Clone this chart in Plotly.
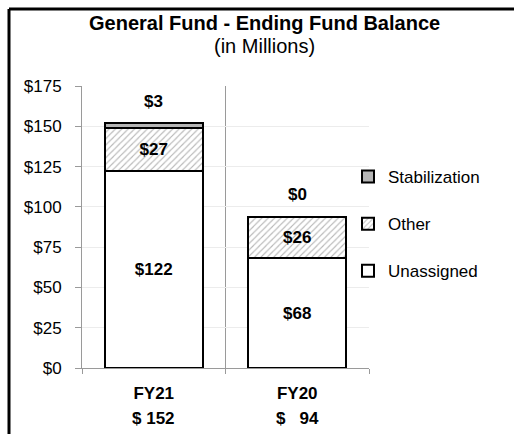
import plotly.graph_objects as go

categories = ["FY21", "FY20"]
unassigned = [122, 68]
other = [27, 26]
stabilization = [3, 0]
totals = [152, 94]
yticks = [0, 25, 50, 75, 100, 125, 150, 175]

FONT = "Liberation Sans, Arial, sans-serif"
W, H = 514, 434
L, R, T, B = 82, 145, 86, 66
PW, PH = W - L - R, H - T - B

def px_x(x):
    return (x - L) / PW

def px_y(y):
    return (H - B - y) / PH

fig = go.Figure()
common = dict(width=0.68, textposition="inside", insidetextanchor="middle",
              textfont=dict(family=FONT, size=17, color="black"),
              constraintext="none", cliponaxis=False)
fig.add_trace(go.Bar(
    x=categories, y=unassigned, name="Unassigned", legendgroup="u", legendrank=3,
    marker=dict(color="white", line=dict(color="black", width=2)),
    texttemplate="<b>$%{y}</b>", **common))
fig.add_trace(go.Bar(
    x=categories, y=other, name="Other", legendgroup="o", legendrank=2,
    marker=dict(color="white", line=dict(color="black", width=2),
                pattern=dict(shape="/", fgcolor="#6e6e6e", bgcolor="white",
                             size=4.5, solidity=0.25)),
    texttemplate="<b>$%{y}</b>", **common))
fig.add_trace(go.Bar(
    x=categories, y=stabilization, name="Stabilization", legendgroup="s", legendrank=1,
    marker=dict(color="#b5b5b5", line=dict(color="black", width=2)),
    texttemplate="", width=0.68, cliponaxis=False))

annotations = []
for c, s, tot in zip(categories, stabilization, totals):
    annotations.append(dict(x=c, y=tot, xref="x", yref="y", text=f"<b>${s}</b>",
                            showarrow=False, yshift=22, yanchor="middle",
                            font=dict(family=FONT, size=17, color="black")))
    num = str(tot)
    pad = "\u00a0" * (1 + 2 * (3 - len(num)))
    annotations.append(dict(x=c, y=px_y(418), xref="x", yref="paper",
                            text=f"<b>${pad}{num}</b>", showarrow=False,
                            yanchor="middle",
                            font=dict(family=FONT, size=17, color="black")))

annotations.append(dict(x=px_x(264), y=px_y(23), xref="paper", yref="paper",
                        text="<b>General Fund - Ending Fund Balance</b>",
                        showarrow=False, yanchor="middle", xanchor="center",
                        font=dict(family=FONT, size=20, color="black")))
annotations.append(dict(x=px_x(264), y=px_y(46), xref="paper", yref="paper",
                        text="(in Millions)", showarrow=False, yanchor="middle",
                        xanchor="center",
                        font=dict(family=FONT, size=20, color="black")))

shapes = [
    dict(type="line", xref="paper", yref="paper", x0=px_x(9), x1=px_x(W + 5),
         y0=px_y(9), y1=px_y(9), line=dict(color="black", width=3)),
    dict(type="line", xref="paper", yref="paper", x0=px_x(9), x1=px_x(9),
         y0=px_y(9), y1=px_y(H + 5), line=dict(color="black", width=3)),
]

fig.update_layout(
    width=W, height=H,
    margin=dict(l=L, r=R, t=T, b=B, autoexpand=False),
    paper_bgcolor="white", plot_bgcolor="white",
    barmode="stack", bargap=0.32,
    font=dict(family=FONT, size=17, color="black"),
    showlegend=True,
    legend=dict(x=px_x(348), xanchor="left", y=px_y(159), yanchor="top",
                traceorder="grouped", tracegroupgap=22,
                font=dict(family=FONT, size=17, color="black"),
                bgcolor="rgba(0,0,0,0)", itemwidth=30),
    xaxis=dict(type="category", range=[-0.5, 1.5], tickson="boundaries",
               showgrid=True, gridcolor="#9a9a9a", gridwidth=1,
               showline=True, linecolor="#9a9a9a", linewidth=1,
               ticks="outside", ticklen=5, tickcolor="#9a9a9a",
               tickvals=categories, ticktext=[f"<b>{c}</b>" for c in categories],
               tickfont=dict(family=FONT, size=17, color="black"),
               ticklabelstandoff=10, fixedrange=True),
    yaxis=dict(range=[0, 175], tickvals=yticks, ticktext=[f"${v}" for v in yticks],
               showgrid=True, gridcolor="#ececec", gridwidth=1,
               showline=True, linecolor="#9a9a9a", linewidth=1,
               ticks="outside", ticklen=6, tickcolor="#9a9a9a",
               tickfont=dict(family=FONT, size=17, color="black"),
               ticklabelstandoff=10,
               zeroline=False, fixedrange=True),
    annotations=annotations, shapes=shapes,
)

fig.write_html("out.html", config={"displayModeBar": False},
               post_script="document.body.style.margin='0';document.body.style.overflow='hidden';")
